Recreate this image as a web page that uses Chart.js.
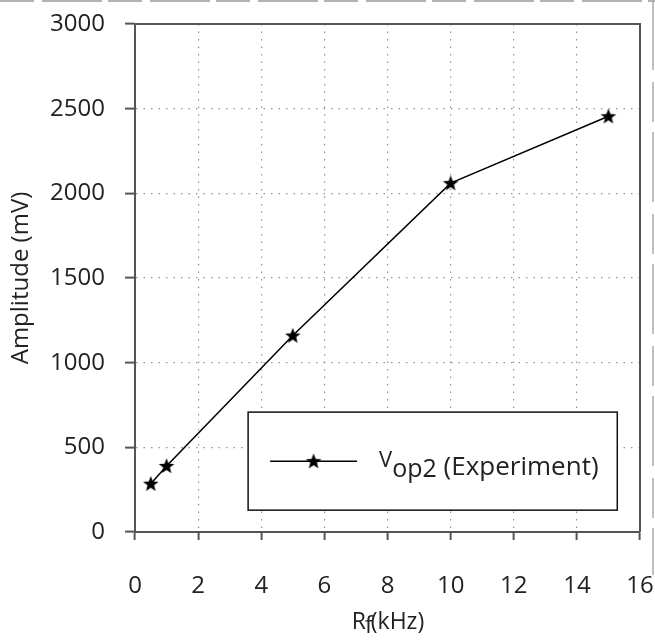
<!DOCTYPE html>
<html>
<head>
<meta charset="utf-8">
<script src="https://cdn.jsdelivr.net/npm/chart.js@4.4.1/dist/chart.umd.min.js"></script>
<style>
  html, body { margin: 0; padding: 0; background: #fff; }
  #wrap { width: 655px; height: 640px; }
</style>
</head>
<body>
<div id="wrap"><canvas id="c" width="655" height="640"></canvas></div>
<script>
// Feedback resistance (kHz) and measured output amplitude (mV)
const rfValues = [0.5, 1, 5, 10, 15];
const amplitudeValues = [285, 390, 1160, 2060, 2455];
const xTicks = [0, 2, 4, 6, 8, 10, 12, 14, 16];
const yTicks = [0, 500, 1000, 1500, 2000, 2500, 3000];
const seriesLabel = { main: 'V', sub: 'op2', rest: ' (Experiment)' };

const FONT = "'Open Sans', 'DejaVu Sans', sans-serif";
const AXIS = '#555';
const TEXT = '#222';

// Filled five-pointed star used as the marker
function makeStar(size, outer, inner) {
  const cv = document.createElement('canvas');
  cv.width = size; cv.height = size;
  const g = cv.getContext('2d');
  const c = size / 2;
  g.beginPath();
  for (let i = 0; i < 10; i++) {
    const r = i % 2 === 0 ? outer : inner;
    const a = -Math.PI / 2 + i * Math.PI / 5;
    const px = c + r * Math.cos(a), py = c + 0.5 + r * Math.sin(a);
    if (i === 0) g.moveTo(px, py); else g.lineTo(px, py);
  }
  g.closePath();
  g.fillStyle = '#000';
  g.fill();
  return cv;
}
const star = makeStar(18, 8.2, 3.5);

const points = rfValues.map((x, i) => ({ x, y: amplitudeValues[i] }));

// Frame, legend box, axis title with subscript
const decorations = {
  id: 'decorations',
  afterDraw(chart) {
    const { ctx, chartArea: a } = chart;
    const w = a.right - a.left, h = a.bottom - a.top;
    ctx.save();

    // top and right frame lines
    ctx.strokeStyle = AXIS;
    ctx.lineWidth = 2;
    ctx.beginPath();
    ctx.moveTo(a.left, a.top);
    ctx.lineTo(a.right, a.top);
    ctx.lineTo(a.right, a.bottom);
    ctx.stroke();

    // legend box
    const bx0 = a.left + 0.224 * w, bx1 = a.left + 0.955 * w;
    const by0 = a.top + 0.764 * h, by1 = a.top + 0.957 * h;
    ctx.fillStyle = '#fff';
    ctx.fillRect(bx0, by0, bx1 - bx0, by1 - by0);
    ctx.strokeStyle = '#111';
    ctx.lineWidth = 1.5;
    ctx.strokeRect(bx0, by0, bx1 - bx0, by1 - by0);

    const ly = (by0 + by1) / 2;
    const lx0 = bx0 + 22, lx1 = bx0 + 109;
    ctx.strokeStyle = '#000';
    ctx.lineWidth = 1.5;
    ctx.beginPath();
    ctx.moveTo(lx0, ly); ctx.lineTo(lx1, ly);
    ctx.stroke();
    ctx.drawImage(star, (lx0 + lx1) / 2 - 9, ly - 9);

    ctx.fillStyle = TEXT;
    ctx.textBaseline = 'alphabetic';
    ctx.textAlign = 'left';
    let tx = bx0 + 131;
    ctx.font = '22px ' + FONT;
    ctx.fillText(seriesLabel.main, tx, ly + 6);
    tx += ctx.measureText(seriesLabel.main).width;
    ctx.font = '25px ' + FONT;
    ctx.fillText(seriesLabel.sub, tx, ly + 16);
    tx += ctx.measureText(seriesLabel.sub).width;
    ctx.font = '26px ' + FONT;
    ctx.fillText(seriesLabel.rest, tx, ly + 14);

    // x axis title: R with subscript f
    const xs = chart.scales.x;
    const cx = (xs.left + xs.right) / 2;
    const baseY = 629;
    ctx.font = '23px ' + FONT;
    const wR = ctx.measureText('R').width;
    const wf = ctx.measureText('f').width;
    const wk = ctx.measureText('(kHz)').width;
    let sx = cx - (wR + wf + wk - 4) / 2;
    ctx.fillText('R', sx, baseY);
    sx += wR;
    ctx.fillText('f', sx - 1, baseY + 4);
    sx += wf - 3;
    ctx.fillText('(kHz)', sx, baseY);

    // faint edge lines along the top and right of the image
    ctx.strokeStyle = '#999';
    ctx.lineWidth = 1.5;
    ctx.setLineDash([34, 8, 60, 6]);
    ctx.beginPath();
    ctx.moveTo(0, 1); ctx.lineTo(655, 1);
    ctx.stroke();
    ctx.strokeStyle = '#aaa';
    ctx.setLineDash([70, 12, 40, 10]);
    ctx.beginPath();
    ctx.moveTo(653, 0); ctx.lineTo(653, 575);
    ctx.stroke();
    ctx.restore();
  }
};

new Chart(document.getElementById('c'), {
  type: 'scatter',
  data: {
    datasets: [{
      label: seriesLabel.main + seriesLabel.sub + seriesLabel.rest,
      data: points,
      showLine: true,
      borderColor: '#000',
      borderWidth: 1.5,
      pointStyle: star,
      pointRadius: 9,
      pointHoverRadius: 9,
      tension: 0
    }]
  },
  options: {
    responsive: false,
    animation: false,
    devicePixelRatio: 1,
    layout: { padding: { top: 24, right: 15, left: 0, bottom: 0 } },
    plugins: { legend: { display: false }, tooltip: { enabled: false } },
    scales: {
      x: {
        type: 'linear',
        min: 0, max: 16,
        afterBuildTicks(scale) { scale.ticks = xTicks.map(v => ({ value: v })); },
        afterFit(scale) {
          scale.height = 108;
          scale.paddingLeft = 0; scale.paddingRight = 0;
        },
        ticks: {
          color: TEXT, font: { family: FONT, size: 24 }, padding: 32, maxRotation: 0,
          callback: v => String(v)
        },
        grid: {
          color: 'rgba(130,130,130,0.85)', lineWidth: 1.2,
          tickColor: AXIS, tickLength: 8, tickWidth: 2
        },
        border: { color: AXIS, width: 2, dash: [1.5, 6] },
        title: { display: false }
      },
      y: {
        type: 'linear',
        min: 0, max: 3000,
        afterBuildTicks(scale) { scale.ticks = yTicks.map(v => ({ value: v })); },
        afterFit(scale) {
          scale.width = 135;
          scale.paddingTop = 0; scale.paddingBottom = 0;
        },
        ticks: {
          color: TEXT, font: { family: FONT, size: 24 }, padding: 20,
          callback: v => String(v)
        },
        grid: {
          color: 'rgba(130,130,130,0.85)', lineWidth: 1.2,
          tickColor: AXIS, tickLength: 10, tickWidth: 2
        },
        border: { color: AXIS, width: 2, dash: [1.5, 6] },
        title: {
          display: true, text: 'Amplitude (mV)', color: TEXT,
          font: { family: FONT, size: 24 }, padding: { top: 7, bottom: 0 }
        }
      }
    }
  },
  plugins: [decorations]
});
</script>
</body>
</html>
